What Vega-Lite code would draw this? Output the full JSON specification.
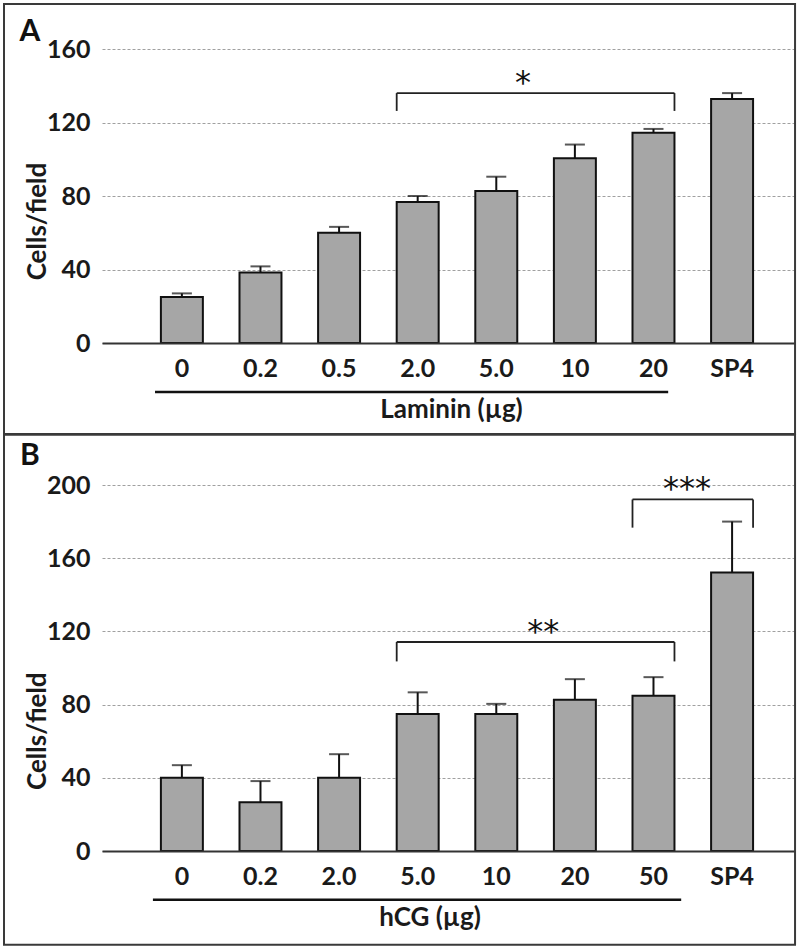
{
  "$schema": "https://vega.github.io/schema/vega-lite/v6.json",
  "padding": {"left": 3, "top": 2, "right": 0, "bottom": 0},
  "spacing": -2,
  "background": "white",
  "datasets": {
    "lam": [
      {"dose": "0", "mean": 25, "upper": 27},
      {"dose": "0.2", "mean": 38.3, "upper": 41.7},
      {"dose": "0.5", "mean": 60, "upper": 63.2},
      {"dose": "2.0", "mean": 76.7, "upper": 80},
      {"dose": "5.0", "mean": 82.7, "upper": 90.5},
      {"dose": "10", "mean": 100.5, "upper": 108},
      {"dose": "20", "mean": 114.4, "upper": 116.5},
      {"dose": "SP4", "mean": 132.8, "upper": 136}
    ],
    "hcg": [
      {"dose": "0", "mean": 40, "upper": 46.9},
      {"dose": "0.2", "mean": 26.6, "upper": 38.2},
      {"dose": "2.0", "mean": 40, "upper": 52.9},
      {"dose": "5.0", "mean": 74.9, "upper": 86.7},
      {"dose": "10", "mean": 74.9, "upper": 80.4},
      {"dose": "20", "mean": 82.6, "upper": 93.9},
      {"dose": "50", "mean": 84.9, "upper": 95},
      {"dose": "SP4", "mean": 152.2, "upper": 180}
    ],
    "brA": [
      {"from": "2.0", "to": "20", "top": 136, "tip": 126.3, "stars": "*"}
    ],
    "brB": [
      {"from": "5.0", "to": "50", "top": 114.2, "tip": 103.6, "stars": "**"},
      {"from": "50", "to": "SP4", "top": 192.1, "tip": 176.7, "stars": "***"}
    ]
  },
  "vconcat": [
    {
      "width": 692,
      "height": 294,
      "layer": [
        {
          "data": {"values": [{}]},
          "mark": {"type": "rect", "fill": "transparent", "stroke": "#3a3a3a", "strokeWidth": 2},
          "encoding": {
            "x": {"datum": "0", "type": "nominal", "bandPosition": -3.738, "scale": {"domain": ["0", "0.2", "0.5", "2.0", "5.0", "10", "20", "SP4"]}},
            "x2": {"datum": "SP4", "bandPosition": 2.0},
            "y": {"datum": 184.5, "type": "quantitative", "scale": {"domain": [0, 160], "nice": false, "zero": false}},
            "y2": {"datum": -49.5}
          }
        },
        {
          "data": {"values": [{}]},
          "mark": {"type": "text", "font": "Lato", "fontWeight": "bold", "fontSize": 30, "baseline": "alphabetic", "align": "center", "color": "#111"},
          "encoding": {
            "x": {"datum": "0", "type": "nominal", "bandPosition": -3.12, "scale": {"domain": ["0", "0.2", "0.5", "2.0", "5.0", "10", "20", "SP4"]}},
            "y": {"datum": 164.4, "type": "quantitative", "scale": {"domain": [0, 160], "nice": false, "zero": false}},
            "text": {"value": "A"}
          }
        },
        {
          "data": {"name": "lam"},
          "mark": {"type": "bar", "fill": "#a6a6a6", "stroke": "#111", "strokeWidth": 2},
          "encoding": {
            "x": {
              "field": "dose", "type": "nominal",
              "scale": {"domain": ["0", "0.2", "0.5", "2.0", "5.0", "10", "20", "SP4"], "paddingInner": 0.466, "paddingOuter": 0.635, "align": 0.59},
              "axis": {"title": "Laminin (µg)", "titleX": 349}
            },
            "y": {
              "field": "mean", "type": "quantitative",
              "scale": {"domain": [0, 160], "nice": false, "zero": false},
              "axis": {"title": "Cells/field", "values": [0, 20, 40, 60, 80, 100, 120, 140, 160], "titleY": 172}
            }
          }
        },
        {
          "data": {"name": "lam"},
          "mark": {"type": "rule", "strokeWidth": 2, "color": "#111"},
          "encoding": {
            "x": {"field": "dose", "type": "nominal", "scale": {"domain": ["0", "0.2", "0.5", "2.0", "5.0", "10", "20", "SP4"]}},
            "y": {"field": "mean", "type": "quantitative", "scale": {"domain": [0, 160], "nice": false, "zero": false}},
            "y2": {"field": "upper"}
          }
        },
        {
          "data": {"name": "lam"},
          "mark": {"type": "tick", "size": 20, "thickness": 2, "color": "#111"},
          "encoding": {
            "x": {"field": "dose", "type": "nominal", "scale": {"domain": ["0", "0.2", "0.5", "2.0", "5.0", "10", "20", "SP4"]}},
            "y": {"field": "upper", "type": "quantitative", "scale": {"domain": [0, 160], "nice": false, "zero": false}}
          }
        },
        {
          "data": {"name": "brA"},
          "mark": {"type": "rule", "strokeWidth": 1.8, "color": "#222"},
          "encoding": {
            "x": {"field": "from", "type": "nominal", "bandPosition": 0, "scale": {"domain": ["0", "0.2", "0.5", "2.0", "5.0", "10", "20", "SP4"]}},
            "x2": {"field": "to", "bandPosition": 1},
            "y": {"field": "top", "type": "quantitative", "scale": {"domain": [0, 160], "nice": false, "zero": false}}
          }
        },
        {
          "data": {"name": "brA"},
          "mark": {"type": "rule", "strokeWidth": 1.8, "color": "#222"},
          "encoding": {
            "x": {"field": "from", "type": "nominal", "bandPosition": 0, "scale": {"domain": ["0", "0.2", "0.5", "2.0", "5.0", "10", "20", "SP4"]}},
            "y": {"field": "top", "type": "quantitative", "scale": {"domain": [0, 160], "nice": false, "zero": false}},
            "y2": {"field": "tip"}
          }
        },
        {
          "data": {"name": "brA"},
          "mark": {"type": "rule", "strokeWidth": 1.8, "color": "#222"},
          "encoding": {
            "x": {"field": "to", "type": "nominal", "bandPosition": 1, "scale": {"domain": ["0", "0.2", "0.5", "2.0", "5.0", "10", "20", "SP4"]}},
            "y": {"field": "top", "type": "quantitative", "scale": {"domain": [0, 160], "nice": false, "zero": false}},
            "y2": {"field": "tip"}
          }
        },
        {
          "data": {"name": "brA"},
          "mark": {"type": "text", "font": "DejaVu Sans", "fontSize": 32, "baseline": "alphabetic", "align": "center", "color": "#111"},
          "encoding": {
            "x": {"field": "from", "type": "nominal", "bandPosition": 3.01, "scale": {"domain": ["0", "0.2", "0.5", "2.0", "5.0", "10", "20", "SP4"]}},
            "y": {"field": "top", "type": "quantitative", "scale": {"domain": [0, 160], "nice": false, "zero": false}},
            "text": {"field": "stars"}
          }
        },
        {
          "data": {"values": [{}]},
          "mark": {"type": "rule", "strokeWidth": 2.5, "color": "#111"},
          "encoding": {
            "x": {"datum": "0", "type": "nominal", "bandPosition": -0.14, "scale": {"domain": ["0", "0.2", "0.5", "2.0", "5.0", "10", "20", "SP4"]}},
            "x2": {"datum": "20", "bandPosition": 0.85},
            "y": {"datum": -26.7, "type": "quantitative", "scale": {"domain": [0, 160], "nice": false, "zero": false}}
          }
        }
      ]
    },
    {
      "width": 692,
      "height": 366,
      "layer": [
        {
          "data": {"values": [{}]},
          "mark": {"type": "rect", "fill": "transparent", "stroke": "#3a3a3a", "strokeWidth": 2},
          "encoding": {
            "x": {"datum": "0", "type": "nominal", "bandPosition": -3.738, "scale": {"domain": ["0", "0.2", "2.0", "5.0", "10", "20", "50", "SP4"]}},
            "x2": {"datum": "SP4", "bandPosition": 2.0},
            "y": {"datum": 227.5, "type": "quantitative", "scale": {"domain": [0, 200], "nice": false, "zero": false}},
            "y2": {"datum": -51.2}
          }
        },
        {
          "data": {"values": [{}]},
          "mark": {"type": "text", "font": "Lato", "fontWeight": "bold", "fontSize": 30, "baseline": "alphabetic", "align": "center", "color": "#111"},
          "encoding": {
            "x": {"datum": "0", "type": "nominal", "bandPosition": -3.12, "scale": {"domain": ["0", "0.2", "2.0", "5.0", "10", "20", "50", "SP4"]}},
            "y": {"datum": 211.1, "type": "quantitative", "scale": {"domain": [0, 200], "nice": false, "zero": false}},
            "text": {"value": "B"}
          }
        },
        {
          "data": {"name": "hcg"},
          "mark": {"type": "bar", "fill": "#a6a6a6", "stroke": "#111", "strokeWidth": 2},
          "encoding": {
            "x": {
              "field": "dose", "type": "nominal",
              "scale": {"domain": ["0", "0.2", "2.0", "5.0", "10", "20", "50", "SP4"], "paddingInner": 0.466, "paddingOuter": 0.635, "align": 0.59},
              "axis": {"title": "hCG (µg)", "titleX": 327.5}
            },
            "y": {
              "field": "mean", "type": "quantitative",
              "scale": {"domain": [0, 200], "nice": false, "zero": false},
              "axis": {"title": "Cells/field", "values": [0, 20, 40, 60, 80, 100, 120, 140, 160, 180, 200], "titleY": 245.7}
            }
          }
        },
        {
          "data": {"name": "hcg"},
          "mark": {"type": "rule", "strokeWidth": 2, "color": "#111"},
          "encoding": {
            "x": {"field": "dose", "type": "nominal", "scale": {"domain": ["0", "0.2", "2.0", "5.0", "10", "20", "50", "SP4"]}},
            "y": {"field": "mean", "type": "quantitative", "scale": {"domain": [0, 200], "nice": false, "zero": false}},
            "y2": {"field": "upper"}
          }
        },
        {
          "data": {"name": "hcg"},
          "mark": {"type": "tick", "size": 20, "thickness": 2, "color": "#111"},
          "encoding": {
            "x": {"field": "dose", "type": "nominal", "scale": {"domain": ["0", "0.2", "2.0", "5.0", "10", "20", "50", "SP4"]}},
            "y": {"field": "upper", "type": "quantitative", "scale": {"domain": [0, 200], "nice": false, "zero": false}}
          }
        },
        {
          "data": {"name": "brB"},
          "mark": {"type": "rule", "strokeWidth": 1.8, "color": "#222"},
          "encoding": {
            "x": {"field": "from", "type": "nominal", "bandPosition": 0, "scale": {"domain": ["0", "0.2", "2.0", "5.0", "10", "20", "50", "SP4"]}},
            "x2": {"field": "to", "bandPosition": 1},
            "y": {"field": "top", "type": "quantitative", "scale": {"domain": [0, 200], "nice": false, "zero": false}}
          }
        },
        {
          "data": {"name": "brB"},
          "mark": {"type": "rule", "strokeWidth": 1.8, "color": "#222"},
          "encoding": {
            "x": {"field": "from", "type": "nominal", "bandPosition": 0, "scale": {"domain": ["0", "0.2", "2.0", "5.0", "10", "20", "50", "SP4"]}},
            "y": {"field": "top", "type": "quantitative", "scale": {"domain": [0, 200], "nice": false, "zero": false}},
            "y2": {"field": "tip"}
          }
        },
        {
          "data": {"name": "brB"},
          "mark": {"type": "rule", "strokeWidth": 1.8, "color": "#222"},
          "encoding": {
            "x": {"field": "to", "type": "nominal", "bandPosition": 1, "scale": {"domain": ["0", "0.2", "2.0", "5.0", "10", "20", "50", "SP4"]}},
            "y": {"field": "top", "type": "quantitative", "scale": {"domain": [0, 200], "nice": false, "zero": false}},
            "y2": {"field": "tip"}
          }
        },
        {
          "data": {"name": "brB"},
          "transform": [{"filter": "datum.stars === '**'"}],
          "mark": {"type": "text", "font": "DejaVu Sans", "fontSize": 32, "baseline": "alphabetic", "align": "center", "color": "#111"},
          "encoding": {
            "x": {"field": "from", "type": "nominal", "bandPosition": 3.49, "scale": {"domain": ["0", "0.2", "2.0", "5.0", "10", "20", "50", "SP4"]}},
            "y": {"field": "top", "type": "quantitative", "scale": {"domain": [0, 200], "nice": false, "zero": false}},
            "text": {"field": "stars"}
          }
        },
        {
          "data": {"name": "brB"},
          "transform": [{"filter": "datum.stars === '***'"}],
          "mark": {"type": "text", "font": "DejaVu Sans", "fontSize": 32, "baseline": "alphabetic", "align": "center", "color": "#111"},
          "encoding": {
            "x": {"field": "from", "type": "nominal", "bandPosition": 1.3, "scale": {"domain": ["0", "0.2", "2.0", "5.0", "10", "20", "50", "SP4"]}},
            "y": {"field": "top", "type": "quantitative", "scale": {"domain": [0, 200], "nice": false, "zero": false}},
            "text": {"field": "stars"}
          }
        },
        {
          "data": {"values": [{}]},
          "mark": {"type": "rule", "strokeWidth": 2.5, "color": "#111"},
          "encoding": {
            "x": {"datum": "0", "type": "nominal", "bandPosition": -0.19, "scale": {"domain": ["0", "0.2", "2.0", "5.0", "10", "20", "50", "SP4"]}},
            "x2": {"datum": "50", "bandPosition": 1.16},
            "y": {"datum": -26.6, "type": "quantitative", "scale": {"domain": [0, 200], "nice": false, "zero": false}}
          }
        }
      ]
    }
  ],
  "config": {
    "view": {"stroke": null},
    "axis": {
      "labelFont": "Lato", "labelFontWeight": "bold", "labelFontSize": 25, "labelColor": "#1a1a1a",
      "titleFont": "Lato", "titleFontWeight": "bold", "titleFontSize": 26, "titleColor": "#1a1a1a",
      "ticks": false, "tickSize": 0
    },
    "axisY": {
      "domain": false, "grid": true, "gridColor": "#a0a0a0", "gridDash": [3, 2], "gridWidth": 1,
      "labelPadding": 12, "labelExpr": "datum.value % 40 === 0 ? datum.label : ''",
      "titleAngle": -90, "titleAlign": "center", "titleBaseline": "alphabetic", "titleX": -57
    },
    "axisX": {
      "domain": true, "domainColor": "#333333", "domainWidth": 2, "grid": false,
      "labelPadding": 33, "labelBaseline": "alphabetic", "labelAngle": 0,
      "titleAlign": "center", "titleBaseline": "alphabetic", "titleY": 74
    }
  }
}
